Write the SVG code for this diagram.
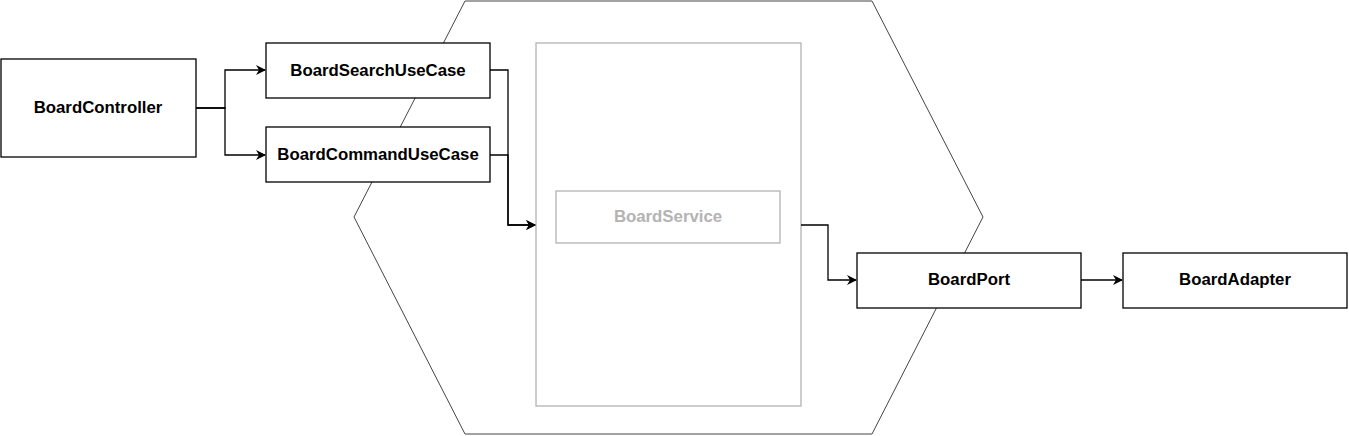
<svg xmlns="http://www.w3.org/2000/svg" width="1349" height="436" viewBox="0 0 1349 436">
<defs>
<style>
.box{fill:#fff;stroke:#000;stroke-width:1.3}
.lbl{font-family:"Liberation Sans",Arial,sans-serif;font-size:16.8px;font-weight:bold;fill:#000;text-anchor:middle;dominant-baseline:central}
.gray{fill:none;stroke:#b3b3b3;stroke-width:1.3}
.glbl{font-family:"Liberation Sans",Arial,sans-serif;font-size:16.8px;font-weight:bold;fill:#b3b3b3;text-anchor:middle;dominant-baseline:central}
.edge{fill:none;stroke:#000;stroke-width:1.3;marker-end:url(#arr)}
</style>
<marker id="arr" markerWidth="10" markerHeight="10" refX="9" refY="5" orient="auto" markerUnits="userSpaceOnUse">
<path d="M0,0 L10,5 L0,10 L3,5 Z" fill="#000"/>
</marker>
</defs>
<rect width="1349" height="436" fill="#fff"/>
<g id="hexagon">
<polygon points="465,1 872,1 983,217 872,434 465,434 354,217" fill="none" stroke="#444" stroke-width="1"/>
</g>
<g id="service-container">
<rect class="gray" x="536" y="43" width="265" height="363"/>
</g>
<g id="BoardService">
<rect class="gray" x="556" y="191" width="224" height="52"/>
<text class="glbl" x="668" y="216">BoardService</text>
</g>
<g id="connectors">
<path class="edge" d="M196,108 H225 V70 H265"/>
<path class="edge" d="M196,108 H225 V155 H265"/>
<path class="edge" d="M490,70 H508 V225 H535"/>
<path class="edge" d="M490,155 H508 V225 H535"/>
<path class="edge" d="M801,225 H828 V280 H856"/>
<path class="edge" d="M1081,280 H1122"/>
</g>
<g id="BoardController">
<rect class="box" x="1" y="59" width="195" height="98"/>
<text class="lbl" x="98" y="107">BoardController</text>
</g>
<g id="BoardSearchUseCase">
<rect class="box" x="266" y="43" width="224" height="55"/>
<text class="lbl" x="378" y="70">BoardSearchUseCase</text>
</g>
<g id="BoardCommandUseCase">
<rect class="box" x="266" y="127" width="224" height="55"/>
<text class="lbl" x="378" y="154">BoardCommandUseCase</text>
</g>
<g id="BoardPort">
<rect class="box" x="857" y="253" width="224" height="55"/>
<text class="lbl" x="969" y="279">BoardPort</text>
</g>
<g id="BoardAdapter">
<rect class="box" x="1123" y="253" width="224" height="55"/>
<text class="lbl" x="1235" y="279">BoardAdapter</text>
</g>
</svg>
